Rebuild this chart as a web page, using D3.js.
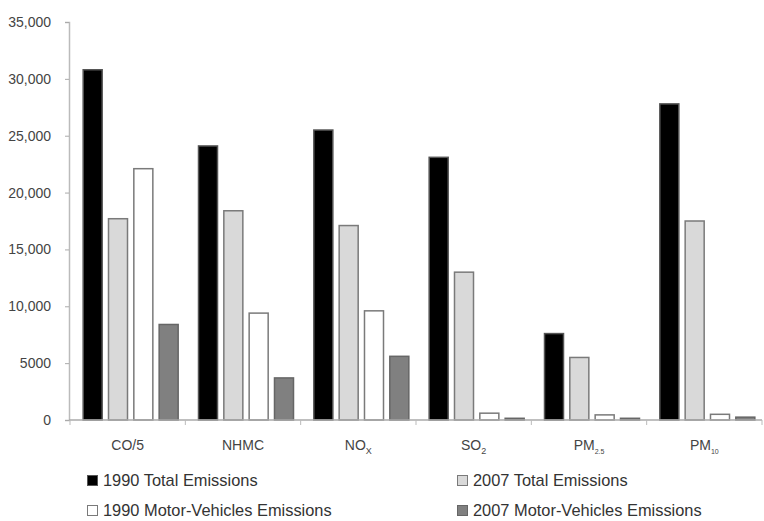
<!DOCTYPE html>
<html><head><meta charset="utf-8">
<script src="https://cdn.jsdelivr.net/npm/d3@7"></script>
<style>body{margin:0;background:#fff}svg{display:block}text{font-family:"Liberation Sans",Arial,sans-serif}</style>
</head><body><svg id="c" width="764" height="521"></svg>
<script>
const categories = ["CO/5","NHMC","NOX","SO2","PM2.5","PM10"];
const labelMain = ["CO/5","NHMC","NO","SO","PM","PM"];
const labelSub = ["","","X","2","2.5","10"];
const seriesNames = ["1990 Total Emissions","2007 Total Emissions","1990 Motor-Vehicles Emissions","2007 Motor-Vehicles Emissions"];
const total1990 = [30800,24100,25500,23100,7600,27800];
const total2007 = [17700,18400,17100,13000,5500,17500];
const motor1990 = [22100,9400,9600,600,450,500];
const motor2007 = [8400,3700,5600,150,150,250];
const yTicks = [0,5000,10000,15000,20000,25000,30000,35000];

const series = [total1990,total2007,motor1990,motor2007];
const fills = ["#000","#d9d9d9","#fff","#808080"];
const strokes = ["#555","#7a7a7a","#7a7a7a","#666"];

const svg = d3.select("#c");
const x0 = 69, x1 = 762, yTop = 22, yBot = 420;
const x = d3.scaleBand().domain(categories).range([x0+1, x1]).paddingInner(0).paddingOuter(0);
const y = d3.scaleLinear().domain([0,35000]).range([yBot,yTop]);
const inner = d3.scaleBand().domain(d3.range(4)).range([0, 96]).paddingInner(0.21);
const groupOffset = (x.bandwidth()-96)/2 + 3;

// bars
series.forEach((s,si)=>{
  svg.append("g").selectAll("rect").data(s).join("rect")
    .attr("x",(d,i)=>x(categories[i])+groupOffset+inner(si)+0.5)
    .attr("y",d=>y(d))
    .attr("width",inner.bandwidth()-1)
    .attr("height",d=>yBot-y(d))
    .attr("fill",fills[si]).attr("stroke",strokes[si]).attr("stroke-width",1.5);
});

// y axis
const fmt = d => d===0?"0":(d<10000?String(d):d3.format(",")(d));
const ya = svg.append("g").attr("transform",`translate(${x0},0)`)
  .call(d3.axisLeft(y).tickValues(yTicks).tickSize(4).tickPadding(14).tickFormat(fmt));
ya.select(".domain").attr("stroke","#bbb").attr("stroke-width",1.5);
ya.selectAll(".tick line").attr("stroke","#aaa");
ya.selectAll("text").attr("font-size",14).attr("fill","#444").attr("font-family","Liberation Sans, Arial, sans-serif");

// x axis
const xa = svg.append("g").attr("transform",`translate(0,${yBot})`);
xa.append("line").attr("x1",x0).attr("x2",x1).attr("stroke","#aaa").attr("stroke-width",1.5);
const bounds = categories.map(c=>x(c)).concat([x1]);
xa.selectAll("line.t").data(bounds).join("line").attr("class","t")
  .attr("x1",d=>d).attr("x2",d=>d).attr("y1",0).attr("y2",5).attr("stroke","#bbb");
const lab = xa.selectAll("text").data(categories).join("text")
  .attr("x",c=>x(c)+x.bandwidth()/2).attr("y",30)
  .attr("text-anchor","middle").attr("font-size",14).attr("fill","#444");
lab.each(function(c,i){
  const t = d3.select(this);
  t.append("tspan").text(labelMain[i]);
  if(labelSub[i]) t.append("tspan").text(labelSub[i]).attr("dy",4).attr("font-size",labelSub[i].length>1?7:9);
});

// legend
const legPos = [[87,486],[457,486],[87,516],[457,516]];
seriesNames.forEach((n,i)=>{
  const g = svg.append("g").attr("transform",`translate(${legPos[i][0]},${legPos[i][1]})`);
  g.append("rect").attr("x",0.5).attr("y",-10.5).attr("width",10).attr("height",10)
    .attr("fill",fills[i]).attr("stroke",strokes[i]).attr("stroke-width",1);
  g.append("text").attr("x",16).attr("y",0).attr("font-size",16.4).attr("fill","#333").text(n);
});
</script></body></html>
